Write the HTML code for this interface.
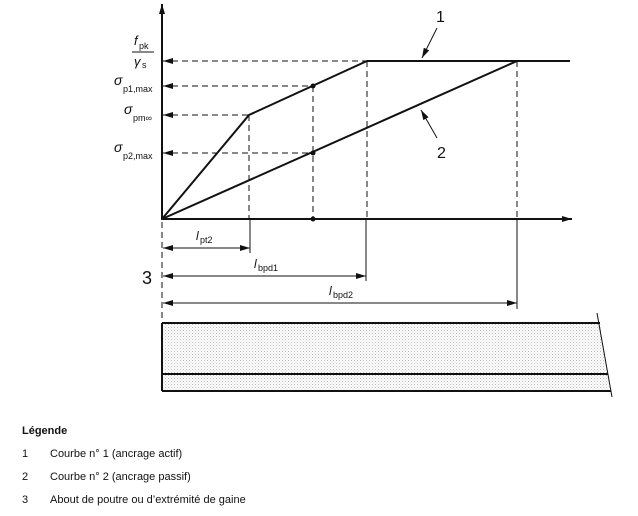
<!DOCTYPE html>
<html><head><meta charset="utf-8"><style>
html,body{margin:0;padding:0;background:#fff;width:638px;height:516px;overflow:hidden}
svg{display:block}
text{font-family:"Liberation Sans",sans-serif;fill:#111}
.n{font-family:"DejaVu Sans Condensed","Liberation Sans",sans-serif}
</style></head><body>
<svg width="638" height="516" viewBox="0 0 638 516" xmlns="http://www.w3.org/2000/svg">
<defs>
<marker id="ah" viewBox="0 0 10 6" refX="10" refY="3" markerWidth="10" markerHeight="6" markerUnits="userSpaceOnUse" orient="auto"><path d="M0,0 L10,3 L0,6 z" fill="#111"/></marker>
<marker id="as" viewBox="0 0 10 6" refX="0" refY="3" markerWidth="10" markerHeight="6" markerUnits="userSpaceOnUse" orient="auto"><path d="M10,0 L0,3 L10,6 z" fill="#111"/></marker>
<pattern id="dots" width="3" height="3" patternUnits="userSpaceOnUse"><rect width="3" height="3" fill="#fff"/><rect width="1" height="1" fill="#bbb"/><rect x="1.5" y="1.5" width="1" height="1" fill="#ccc"/></pattern>
</defs>
<g stroke="#111" fill="none">
<!-- axes -->
<line x1="162" y1="220" x2="162" y2="4" stroke-width="2" marker-end="url(#ah)"/>
<line x1="161" y1="219" x2="572" y2="219" stroke-width="2" marker-end="url(#ah)"/>
<!-- dashed horizontals -->
<g stroke-dasharray="6,4" stroke-width="1">
<line x1="172" y1="61" x2="367" y2="61"/>
<line x1="172" y1="86" x2="313" y2="86"/>
<line x1="172" y1="115" x2="249" y2="115"/>
<line x1="172" y1="153" x2="313" y2="153"/>
<line x1="249" y1="115" x2="249" y2="219"/>
<line x1="313" y1="86" x2="313" y2="219"/>
<line x1="367" y1="61" x2="367" y2="219"/>
<line x1="517" y1="61" x2="517" y2="219"/>
<line x1="162" y1="222" x2="162" y2="322"/>
</g>
<g stroke-width="1">
<line x1="163" y1="61" x2="172" y2="61" marker-start="url(#as)"/>
<line x1="163" y1="86" x2="172" y2="86" marker-start="url(#as)"/>
<line x1="163" y1="115" x2="172" y2="115" marker-start="url(#as)"/>
<line x1="163" y1="153" x2="172" y2="153" marker-start="url(#as)"/>
</g>
<!-- curves -->
<polyline points="162,219 249,115 367,61 570,61" stroke-width="2"/>
<line x1="162" y1="219" x2="517" y2="61" stroke-width="2"/>
<!-- dimension ticks -->
<g stroke-width="1">
<line x1="250" y1="219" x2="250" y2="253"/>
<line x1="366" y1="219" x2="366" y2="281"/>
<line x1="517" y1="219" x2="517" y2="309"/>
<line x1="163" y1="248" x2="250" y2="248" marker-start="url(#as)" marker-end="url(#ah)"/>
<line x1="163" y1="276" x2="366" y2="276" marker-start="url(#as)" marker-end="url(#ah)"/>
<line x1="163" y1="303" x2="517" y2="303" marker-start="url(#as)" marker-end="url(#ah)"/>
<!-- leader arrows -->
<line x1="437" y1="28" x2="422" y2="58" marker-end="url(#ah)"/>
<line x1="437" y1="138" x2="421" y2="110" marker-end="url(#ah)"/>
</g>
<!-- beam -->
<polygon points="162,323 600,323 610,391 162,391" fill="url(#dots)" stroke="none"/>
<line x1="162" y1="323" x2="600" y2="323" stroke-width="2"/>
<line x1="162" y1="374" x2="608" y2="374" stroke-width="2"/>
<line x1="162" y1="391" x2="611" y2="391" stroke-width="2"/>
<line x1="162" y1="323" x2="162" y2="391" stroke-width="2"/>
<line x1="597" y1="313" x2="612" y2="397" stroke-width="1"/>
</g>
<g fill="#111">
<circle cx="313" cy="86" r="2.5"/><circle cx="313" cy="153" r="2.5"/><circle cx="313" cy="219" r="2.5"/>
</g>
<!-- y labels -->
<g class="n">
<text x="134" y="45" font-size="13" font-style="italic">f</text><text x="139" y="49" font-size="9">pk</text>
<line x1="132" y1="52" x2="154" y2="52" stroke="#111" stroke-width="1"/>
<text x="134" y="66" font-size="13" font-style="italic">γ</text><text x="142" y="68" font-size="9">s</text>
<text x="114" y="85" font-size="14" font-style="italic">σ</text><text x="123" y="92" font-size="9">p1,max</text>
<text x="124" y="114" font-size="14" font-style="italic">σ</text><text x="133" y="121" font-size="9">pm∞</text>
<text x="114" y="152" font-size="14" font-style="italic">σ</text><text x="123" y="159" font-size="9">p2,max</text>
<text x="196" y="240" font-size="12" font-style="italic">l</text><text x="200" y="243" font-size="9">pt2</text>
<text x="254" y="268" font-size="12" font-style="italic">l</text><text x="258" y="271" font-size="9">bpd1</text>
<text x="329" y="295" font-size="12" font-style="italic">l</text><text x="333" y="298" font-size="9">bpd2</text>
<text x="436" y="22" font-size="16">1</text>
<text x="437" y="158" font-size="16">2</text>
<text x="142" y="284" font-size="18">3</text>
</g>
<!-- legend -->
<text x="22" y="434" font-size="11" font-weight="bold">Légende</text>
<text x="22" y="457" font-size="11">1</text><text x="50" y="457" font-size="11">Courbe n° 1 (ancrage actif)</text>
<text x="22" y="480" font-size="11">2</text><text x="50" y="480" font-size="11">Courbe n° 2 (ancrage passif)</text>
<text x="22" y="503" font-size="11">3</text><text x="50" y="503" font-size="11">About de poutre ou d’extrémité de gaine</text>
</svg>
</body></html>
